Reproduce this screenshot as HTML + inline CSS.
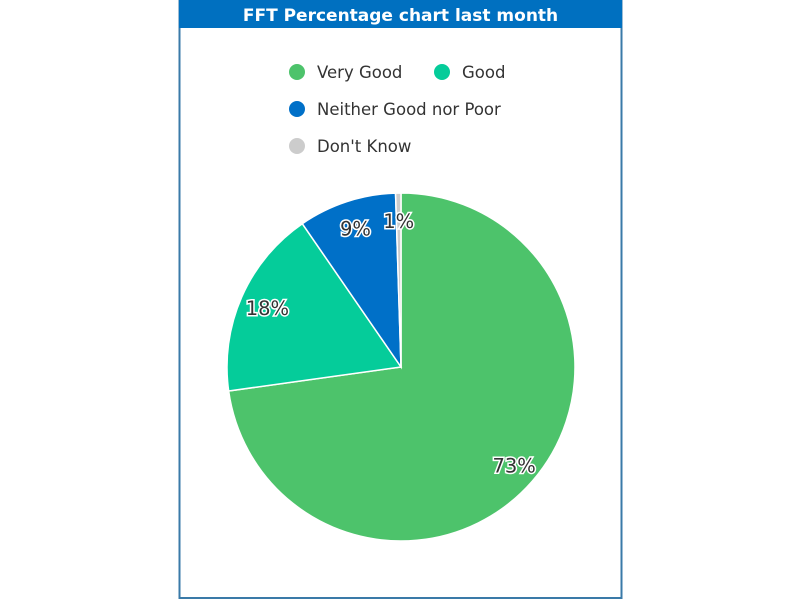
<!DOCTYPE html>
<html><head><meta charset="utf-8"><style>
body{margin:0;width:800px;height:600px;background:#fff;overflow:hidden;font-family:"DejaVu Sans","Liberation Sans",sans-serif;}
</style></head><body>
<svg id="chart" width="800" height="600">
<rect x="179.5" y="0.5" width="442" height="597.5" fill="#fff" stroke="#3a7aa8" stroke-width="2"/>
<rect x="179" y="0" width="443" height="28" fill="#0070c0"/>
<text x="400.5" y="21" text-anchor="middle" fill="#fff" font-size="17" font-weight="bold">FFT Percentage chart last month</text>
<g id="legend"></g>
<g id="slices"></g>
<g id="labels"></g>
</svg>
<script>
const categories = ["Very Good", "Good", "Neither Good nor Poor", "Don't Know"];
const values = [72.8, 17.6, 9.1, 0.5];
const labelTexts = ["73%", "18%", "9%", "1%"];
const colors = ["#4dc36b", "#05cc9a", "#0070c8", "#cccccc"];
const NS = "http://www.w3.org/2000/svg";
const cx = 401, cy = 367, r = 174;
const total = values.reduce((a, b) => a + b, 0);
function angleOf(v){ return v / total * Math.PI * 2; }
function pt(a, rad){ return [cx + rad * Math.sin(a), cy - rad * Math.cos(a)]; }
const slicesG = document.getElementById('slices');
const labelsG = document.getElementById('labels');
let start = 0;
values.forEach((v, i) => {
  const end = start + angleOf(v);
  const [x1, y1] = pt(start, r), [x2, y2] = pt(end, r);
  const large = (end - start) > Math.PI ? 1 : 0;
  const p = document.createElementNS(NS, 'path');
  p.setAttribute('d', `M${cx},${cy} L${x1},${y1} A${r},${r} 0 ${large} 1 ${x2},${y2} Z`);
  p.setAttribute('fill', colors[i]);
  p.setAttribute('stroke', '#fff');
  p.setAttribute('stroke-width', '1.5');
  
  
  slicesG.appendChild(p);
  const mid = (start + end) / 2;
  const lr = i === 0 ? 150 : 146;
  const [lx, ly] = pt(mid, lr);
  const t = document.createElementNS(NS, 'text');
  t.setAttribute('x', lx); t.setAttribute('y', ly + 7);
  t.setAttribute('text-anchor', 'middle');
  t.setAttribute('font-size', '19.5');
  t.setAttribute('fill', '#333');
  t.setAttribute('stroke', '#fff');
  t.setAttribute('stroke-width', '3');
  t.setAttribute('paint-order', 'stroke');
  t.textContent = labelTexts[i];
  
  
  labelsG.appendChild(t);
  start = end;
});
const legendPos = [[297,72],[442,72],[297,109],[297,146]];
const legendG = document.getElementById('legend');
categories.forEach((c, i) => {
  const [x, y] = legendPos[i];
  const circ = document.createElementNS(NS, 'circle');
  circ.setAttribute('cx', x); circ.setAttribute('cy', y); circ.setAttribute('r', 8);
  circ.setAttribute('fill', colors[i]);
  
  
  legendG.appendChild(circ);
  const t = document.createElementNS(NS, 'text');
  t.setAttribute('x', x + 20); t.setAttribute('y', y + 6);
  t.setAttribute('font-size', '16.5');
  t.setAttribute('fill', '#333');
  t.textContent = c;
  
  
  legendG.appendChild(t);
});
</script>
</body></html>
